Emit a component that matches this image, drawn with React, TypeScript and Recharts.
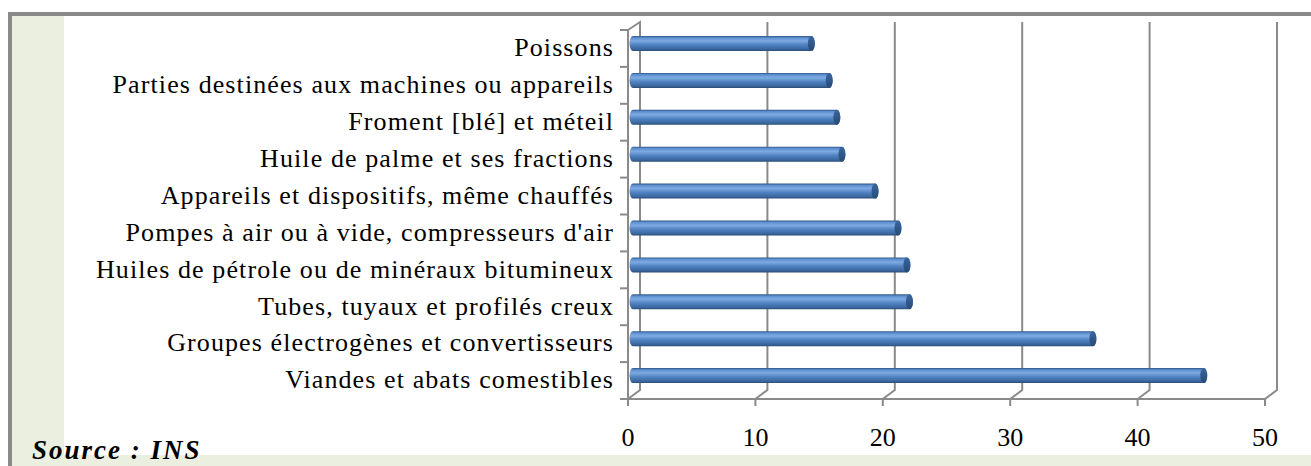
import React from 'react'
import { BarChart, Bar, XAxis, YAxis, CartesianGrid } from 'recharts'

const categories = [
  'Poissons',
  'Parties destinées aux machines ou appareils',
  'Froment [blé] et méteil',
  'Huile de palme et ses fractions',
  'Appareils et dispositifs, même chauffés ',
  "Pompes à air ou à vide, compresseurs d'air",
  'Huiles de pétrole ou de minéraux bitumineux ',
  'Tubes, tuyaux et profilés creux',
  'Groupes électrogènes et convertisseurs ',
  'Viandes et abats comestibles',
]
const values = [14.0, 15.4, 16.0, 16.4, 19.0, 20.8, 21.5, 21.7, 36.1, 44.8]
const xTicks = [0, 10, 20, 30, 40, 50]

const data = categories.map((name, i) => ({ name, value: values[i] }))

const W = 1311
const H = 466
const margin = { top: 30, right: 46, bottom: 0, left: 0 }
const xAxisH = 67
const plotH = H - margin.top - xAxisH
const axisColor = '#8a8a8a'
const serif = '"Liberation Serif", "Times New Roman", serif'

// 3D depth offsets
const backDx = 12
const backDy = -8
const barDx = 5
const barDy = -5

const Cylinder = (props: any) => {
  const { x, y, width, height } = props
  if (width == null) return null
  const x0 = x + barDx
  const y0 = y + barDy
  const rx = 3.5
  const ry = height / 2
  const x1 = x0 + width
  const d = `M ${x0} ${y0} L ${x1} ${y0} A ${rx} ${ry} 0 0 1 ${x1} ${y0 + height} L ${x0} ${y0 + height} A ${rx} ${ry} 0 0 1 ${x0} ${y0} Z`
  return (
    <g>
      <path d={d} fill="url(#cyl)" />
      <ellipse cx={x1} cy={y0 + ry} rx={rx} ry={ry} fill="url(#cap)" />
    </g>
  )
}

const backGrid = (props: any) => {
  const { x1, y1, y2, index } = props
  const x = x1
  const d =
    index === 0
      ? `M ${x} ${y1} L ${x + backDx} ${y1 + backDy} L ${x + backDx} ${y2 - 9} L ${x} ${y2}`
      : `M ${x + backDx} ${y1 + backDy} L ${x + backDx} ${y2 - 9} L ${x} ${y2}`
  return <path key={`g-${index}`} d={d} fill="none" stroke={axisColor} strokeWidth={2} />
}

const CategoryTick = (props: any) => {
  const { x, y, payload, index } = props
  const half = payload?.offset || plotH / categories.length / 2
  return (
    <g>
      <line x1={x - 8} x2={x} y1={y - half} y2={y - half} stroke={axisColor} strokeWidth={2} />
      {index === categories.length - 1 && (
        <line x1={x - 8} x2={x} y1={y + half} y2={y + half} stroke={axisColor} strokeWidth={2} />
      )}
      <text
        x={x - 14}
        y={y}
        dy="0.3em"
        textAnchor="end"
        fill="#000"
        fontFamily={serif}
        fontSize={26}
        letterSpacing={1.1}
      >
        {payload.value}
      </text>
    </g>
  )
}

export default function App() {
  return (
    <div style={{ position: 'absolute', left: 0, top: 0, width: W, height: H, overflow: 'hidden' }}>
      <div
        style={{
          position: 'absolute',
          left: 8,
          top: 12,
          width: W - 8,
          height: H - 12,
          boxSizing: 'border-box',
          borderTop: '4px solid #8a8a8a',
          borderLeft: '4px solid #8a8a8a',
          background: '#ebefdf',
        }}
      />
      <div style={{ position: 'absolute', left: 64, top: 16, width: W - 64, height: 439, background: '#fff' }} />
      <div style={{ position: 'absolute', left: 0, top: 0 }}>
        <BarChart width={W} height={H} data={data} layout="vertical" margin={margin} barSize={15}>
          <defs>
            <linearGradient id="cyl" x1="0" y1="0" x2="0" y2="1">
              <stop offset="0%" stopColor="#2f5585" />
              <stop offset="12%" stopColor="#5d8fd0" />
              <stop offset="32%" stopColor="#7eaae2" />
              <stop offset="60%" stopColor="#4f81c0" />
              <stop offset="88%" stopColor="#3a669e" />
              <stop offset="100%" stopColor="#2a4b74" />
            </linearGradient>
            <linearGradient id="cap" x1="0" y1="0" x2="0" y2="1">
              <stop offset="0%" stopColor="#3a679f" />
              <stop offset="100%" stopColor="#274a76" />
            </linearGradient>
          </defs>
          <CartesianGrid horizontal={false} vertical={backGrid} />
          <XAxis
            type="number"
            domain={[0, 50]}
            ticks={xTicks}
            interval={0}
            height={xAxisH}
            axisLine={{ stroke: axisColor, strokeWidth: 2 }}
            tickLine={{ stroke: axisColor, strokeWidth: 2 }}
            tickSize={7}
            tickMargin={22}
            tick={{ fill: '#000', fontSize: 26, fontFamily: serif }}
          />
          <YAxis
            type="category"
            dataKey="name"
            width={628}
            axisLine={{ stroke: axisColor, strokeWidth: 2 }}
            tickLine={false}
            tickSize={0}
            tickMargin={0}
            interval={0}
            tick={<CategoryTick />}
          />
          <Bar dataKey="value" shape={<Cylinder />} isAnimationActive={false} />
        </BarChart>
      </div>
      <div
        style={{
          position: 'absolute',
          left: 32,
          top: 435,
          fontFamily: serif,
          fontSize: 27,
          letterSpacing: 2,
          fontWeight: 'bold',
          fontStyle: 'italic',
          color: '#000',
          lineHeight: '31px',
        }}
      >
        Source : INS
      </div>
    </div>
  )
}
